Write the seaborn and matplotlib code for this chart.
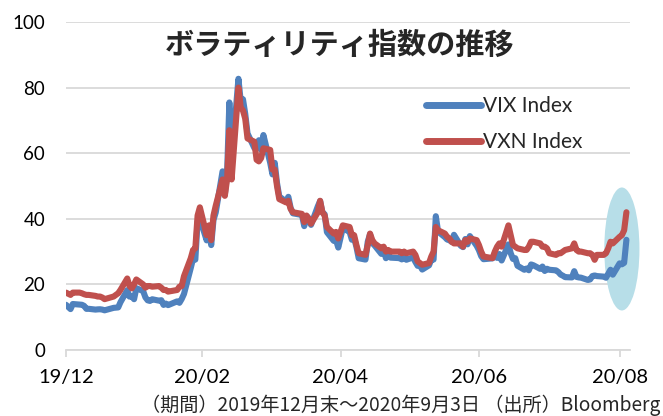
import pandas as pd
import matplotlib
matplotlib.use("Agg")
import matplotlib.pyplot as plt
import matplotlib.dates as mdates
from matplotlib.patches import Ellipse
import seaborn as sns

sns.set_theme(style="white")
plt.rcParams["font.family"] = ["Lato", "Noto Sans CJK JP", "DejaVu Sans"]

# trading days 2019-12-31 .. 2020-09-03 (US market holidays removed)
HOLIDAYS = ["2020-01-01", "2020-01-20", "2020-02-17", "2020-04-10", "2020-05-25", "2020-07-03"]
dates = pd.bdate_range("2019-12-31", "2020-09-03", freq="C", holidays=HOLIDAYS)

vix = [
    13.78,
    # Jan
    12.47, 14.02, 13.85, 13.79, 13.45, 12.54, 12.56, 12.32, 12.39, 12.42, 12.32, 12.10,
    12.85, 12.91, 12.98, 14.56, 18.23, 16.28, 16.39, 15.49, 18.84,
    # Feb
    17.97, 16.05, 15.15, 14.96, 15.47, 15.04, 15.18, 13.74, 14.15, 13.68,
    14.83, 14.38, 15.56, 17.08, 25.03, 27.85, 27.56, 39.16, 40.11,
    # Mar
    33.42, 36.82, 31.99, 39.62, 41.94, 54.46, 47.30, 53.90, 75.47, 57.83,
    82.69, 75.91, 76.45, 72.00, 66.04, 61.59, 61.67, 63.95, 61.00, 65.54, 57.08, 53.54,
    # Apr
    57.06, 50.91, 46.80, 45.24, 46.70, 43.35, 41.67, 41.17, 37.76, 40.84, 40.11,
    38.15, 43.83, 45.41, 41.98, 41.38, 35.93, 33.29, 33.57, 31.23, 34.15,
    # May
    37.19, 35.97, 33.61, 34.12, 31.44, 27.98, 27.57, 33.04, 35.28, 32.61,
    31.89, 29.30, 30.53, 27.99, 29.53, 28.16, 28.01, 27.62, 28.59, 27.51,
    # Jun
    28.23, 26.84, 25.66, 25.81, 24.52, 25.81, 27.57, 27.57, 40.79, 36.09, 34.40,
    33.67, 33.47, 32.94, 35.12, 31.77, 31.37, 33.84, 32.22, 34.73, 31.78, 30.43,
    # Jul
    28.62, 27.68, 27.94, 29.43, 28.08, 29.26, 27.29, 32.19, 29.52, 27.76, 28.00,
    25.68, 24.46, 24.84, 24.32, 26.08, 25.84, 24.74, 25.44, 24.10, 24.76, 24.46,
    # Aug
    24.28, 23.76, 22.99, 22.65, 22.21, 22.13, 24.03, 22.28, 22.13, 22.05, 21.35,
    21.51, 22.54, 22.72, 22.54, 22.37, 22.03, 23.27, 24.47, 22.96, 26.41,
    # Sep
    26.12, 26.57, 33.60,
]

vxn = [
    17.5,
    # Jan
    16.8, 17.5, 17.5, 17.3, 17.0, 16.8, 16.8, 16.5, 16.3, 16.3, 16.0, 15.5,
    16.3, 16.8, 17.3, 18.3, 21.8, 19.5, 18.8, 20.0, 21.5,
    # Feb
    20.0, 19.0, 19.5, 19.5, 19.3, 19.5, 19.0, 18.3, 18.3, 17.8,
    18.3, 19.3, 19.5, 22.5, 28.0, 30.5, 31.0, 41.0, 43.5,
    # Mar
    35.0, 38.0, 33.5, 41.0, 44.0, 52.0, 47.0, 52.0, 67.0, 52.0,
    80.0, 74.0, 73.0, 70.5, 64.5, 63.5, 58.0, 57.5, 58.5, 61.5, 61.0, 55.0,
    # Apr
    55.0, 50.0, 46.0, 45.0, 45.5, 43.0, 42.0, 41.5, 39.0, 41.0, 40.0,
    38.5, 42.0, 45.5, 42.0, 41.0, 37.5, 35.5, 36.0, 34.0, 36.0,
    # May
    38.0, 37.5, 35.0, 35.0, 32.0, 29.5, 29.0, 32.0, 35.5, 33.5,
    32.5, 31.0, 31.5, 30.0, 30.5, 30.0, 30.0, 29.5, 30.0, 29.5,
    # Jun
    30.0, 29.0, 27.0, 26.5, 26.0, 26.5, 28.5, 30.0, 37.5, 36.5, 35.5,
    34.5, 34.0, 33.0, 32.5, 32.5, 31.5, 33.5, 33.0, 34.0, 33.5, 32.0,
    # Jul
    30.0, 28.5, 28.0, 30.0, 31.5, 32.5, 31.5, 38.0, 35.0, 32.0, 31.5,
    31.0, 30.5, 30.5, 31.5, 33.0, 33.0, 32.5, 31.5, 31.5, 31.0, 29.5,
    # Aug
    29.0, 29.5, 29.5, 30.0, 30.5, 31.0, 32.5, 30.5, 30.0, 30.0, 29.5,
    29.5, 29.0, 27.5, 29.0, 29.0, 29.5, 31.0, 33.0, 32.5, 34.5,
    # Sep
    35.0, 36.5, 42.0,
]

tick_dates = ["2019-12-31", "2020-02-29", "2020-04-30", "2020-06-30", "2020-08-31"]
y_ticks = [0, 20, 40, 60, 80, 100]

df = pd.DataFrame({"date": dates, "VIX Index": vix, "VXN Index": vxn})

fig = plt.figure(figsize=(6.63, 4.16), dpi=100)
ax = fig.add_axes([66 / 663, 1 - 350 / 416, (630 - 66) / 663, (350 - 22) / 416])

# highlight around the latest jump
ax.add_patch(Ellipse((mdates.date2num(pd.Timestamp("2020-09-01")), 30.8), 15.5, 37.5,
                     facecolor="#B7DEE8", edgecolor="none", zorder=1, clip_on=False))

sns.lineplot(data=df, x="date", y="VIX Index", ax=ax, color="#4F81BD", lw=4.4,
             label="VIX Index", zorder=3, solid_joinstyle="round")
sns.lineplot(data=df, x="date", y="VXN Index", ax=ax, color="#C0504D", lw=4.4,
             label="VXN Index", zorder=4, solid_joinstyle="round")

ax.set_xlim(pd.Timestamp("2019-12-31"), pd.Timestamp("2020-09-04 14:00"))
ax.set_ylim(0, 100)
ax.set_yticks(y_ticks)
ax.set_xticks(pd.to_datetime(tick_dates))
ax.xaxis.set_major_formatter(mdates.DateFormatter("%y/%m"))
ax.set_xlabel("")
ax.set_ylabel("")

ax.grid(axis="y", color="#D9D9D9", lw=1.3)
ax.set_axisbelow(True)
for s in ["top", "right", "left"]:
    ax.spines[s].set_visible(False)
ax.spines["bottom"].set_color("#D9D9D9")
ax.spines["bottom"].set_linewidth(1.3)
ax.tick_params(axis="y", length=0, pad=15, labelsize=13.5, labelcolor="black")
ax.tick_params(axis="x", length=5, width=1.3, color="#D9D9D9", direction="out",
               pad=9, labelsize=14.5, labelcolor="black")
ax.xaxis.set_ticks_position("bottom")

leg = ax.legend(loc="upper left", bbox_to_anchor=((418 - 66) / 564, (350 - 88) / 328),
                frameon=False, fontsize=15, handlelength=2.6, handletextpad=0.12,
                labelspacing=0.75, borderaxespad=0)
for h in leg.get_lines():
    h.set_linewidth(5)
    h.set_solid_capstyle("round")

fig.text(340 / 663, 1 - 45 / 416, "ボラティリティ指数の推移", ha="center", va="center",
         fontsize=21, fontweight="bold", family=["Noto Sans CJK JP", "DejaVu Sans"])
fig.text(660 / 663, 1 - 405 / 416, "（期間）2019年12月末～2020年9月3日 （出所）Bloomberg",
         ha="right", va="center", fontsize=13.8, family=["Noto Sans CJK JP", "DejaVu Sans"])

fig.savefig("out.png", dpi=100)
